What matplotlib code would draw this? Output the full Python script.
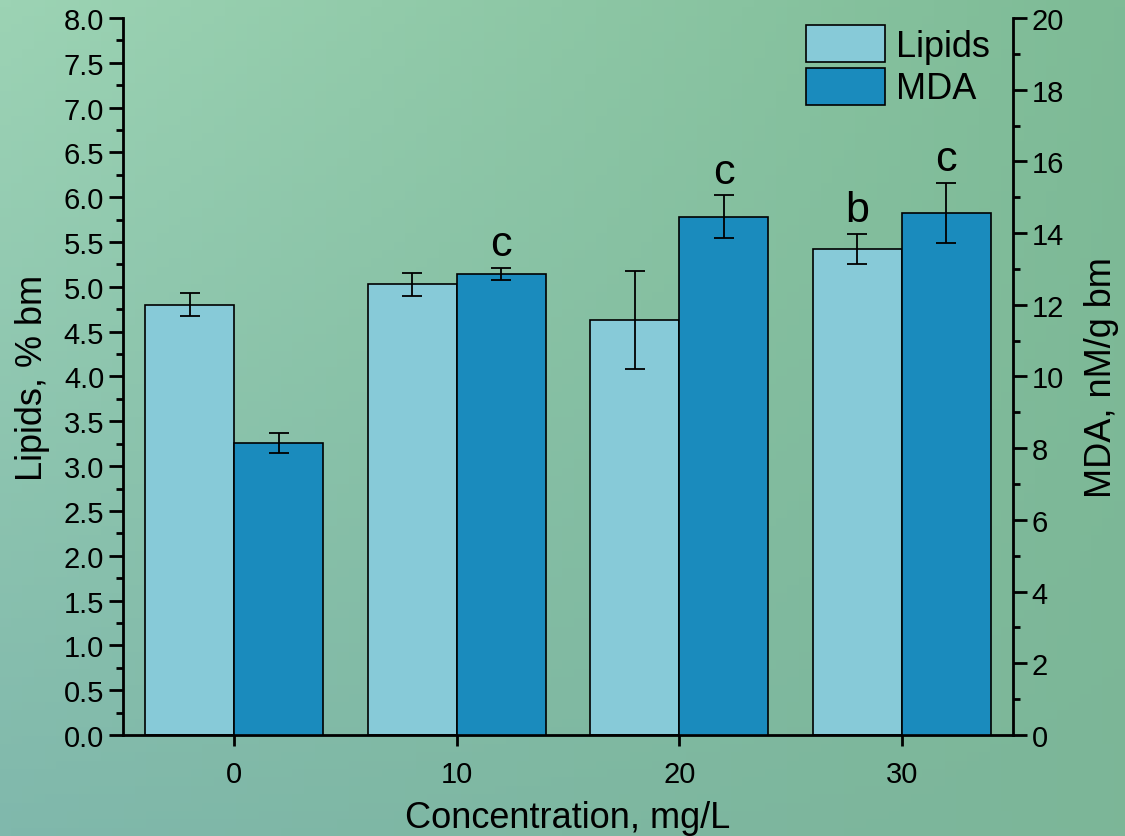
import numpy as np
import matplotlib
matplotlib.use("Agg")
import matplotlib.pyplot as plt
from matplotlib.ticker import MultipleLocator

plt.rcParams['font.family'] = ['Liberation Sans', 'DejaVu Sans']

# data
conc = [0, 10, 20, 30]
lipids = [4.80, 5.03, 4.63, 5.42]
lipids_err = [0.13, 0.13, 0.55, 0.17]
mda = [8.15, 12.86, 14.46, 14.56]
mda_err = [0.28, 0.17, 0.60, 0.84]
lipids_marks = ["", "", "", "b"]
mda_marks = ["", "c", "c", "c"]

c_lip = "#87cad8"
c_mda = "#1a8bbd"
w = 4

fig = plt.figure(figsize=(11.25, 8.37), dpi=100)

# gradient background
bg = fig.add_axes([0, 0, 1, 1], zorder=-10)
tl = np.array([156, 211, 180]) / 255
tr = np.array([126, 187, 150]) / 255
bl = np.array([128, 184, 172]) / 255
br = np.array([124, 182, 152]) / 255
yy, xx = np.mgrid[0:1:100j, 0:1:100j]
img = (tl * ((1 - xx) * (1 - yy))[..., None] + tr * (xx * (1 - yy))[..., None]
       + bl * ((1 - xx) * yy)[..., None] + br * (xx * yy)[..., None])
bg.imshow(img, aspect='auto', extent=[0, 1, 0, 1])
bg.axis('off')

ax = fig.add_axes([0.1093, 0.1207, 0.7911, 0.8566])
ax.patch.set_alpha(0)
ax2 = ax.twinx()

x = np.array(conc, dtype=float)
ekw = dict(elinewidth=1.3, capthick=1.3, ecolor='black')
b1 = ax.bar(x - w / 2, lipids, w, yerr=lipids_err, color=c_lip, edgecolor='black',
            linewidth=1.2, capsize=7, error_kw=ekw, label='Lipids')
b2 = ax2.bar(x + w / 2, mda, w, yerr=mda_err, color=c_mda, edgecolor='black',
             linewidth=1.2, capsize=7, error_kw=ekw, label='MDA')

for xi, v, e, m in zip(x, lipids, lipids_err, lipids_marks):
    if m:
        ax.text(xi - w / 2, v + e + 0.05, m, ha='center', va='bottom', fontsize=31)
for xi, v, e, m in zip(x, mda, mda_err, mda_marks):
    if m:
        ax2.text(xi + w / 2, v + e + 0.1, m, ha='center', va='bottom', fontsize=31)

ax.set_xlim(-5, 35)
ax.set_ylim(0, 8)
ax2.set_ylim(0, 20)
ax.set_xticks(conc)
ax.yaxis.set_major_locator(MultipleLocator(0.5))
ax.yaxis.set_minor_locator(MultipleLocator(0.25))
ax.yaxis.set_major_formatter(matplotlib.ticker.FormatStrFormatter('%.1f'))
ax2.yaxis.set_major_locator(MultipleLocator(2))
ax2.yaxis.set_minor_locator(MultipleLocator(1))

for a in (ax, ax2):
    a.spines['top'].set_visible(False)
    for s in a.spines.values():
        s.set_linewidth(2)
ax.spines['right'].set_visible(False)
ax2.spines['left'].set_visible(False)
ax2.spines['bottom'].set_visible(False)

ax.tick_params(axis='y', which='major', length=10, width=2, labelsize=21, direction='out')
ax.tick_params(axis='y', which='minor', length=5, width=2, direction='out')
ax.tick_params(axis='x', which='major', length=8, width=2, labelsize=21, pad=10)
ax2.tick_params(axis='y', which='major', length=10, width=2, labelsize=21, direction='out')
ax2.tick_params(axis='y', which='minor', length=5, width=2, direction='out')

ax.set_xlabel("Concentration, mg/L", fontsize=26, labelpad=9)
ax.set_ylabel("Lipids, % bm", fontsize=26, labelpad=10)
ax2.set_ylabel("MDA, nM/g bm", fontsize=26, labelpad=14)

ax2.legend([b1, b2], ['Lipids', 'MDA'], loc='upper right', frameon=False, fontsize=26,
           handlelength=2.2, handleheight=1.2, labelspacing=0.1, handletextpad=0.3,
           borderpad=0.2, borderaxespad=0.0, bbox_to_anchor=(0.982, 1.0))

fig.savefig("out.png", dpi=100)
